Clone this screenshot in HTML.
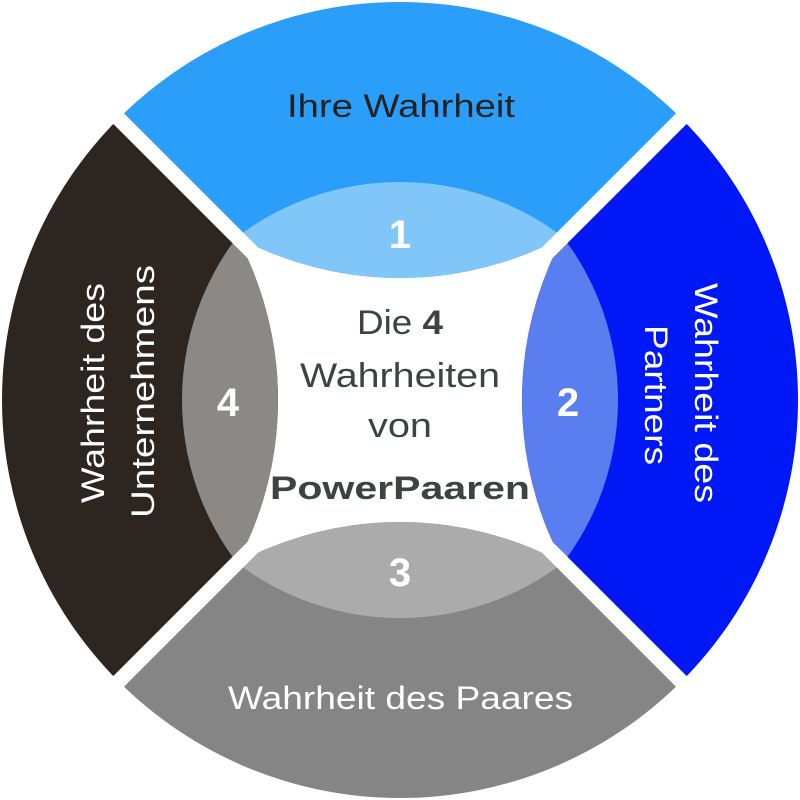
<!DOCTYPE html>
<html><head><meta charset="utf-8"><style>
html,body{margin:0;padding:0;background:#fff;}
svg{display:block;}
text{font-family:"Liberation Sans","DejaVu Sans",sans-serif;}
</style></head><body>
<svg width="800" height="800" viewBox="0 0 800 800" xmlns="http://www.w3.org/2000/svg">
<defs>
<clipPath id="wT"><polygon points="400,400 -400,-400 1200,-400"/></clipPath>
<clipPath id="wR"><polygon points="400,400 1200,-400 1200,1200"/></clipPath>
<clipPath id="wB"><polygon points="400,400 1200,1200 -400,1200"/></clipPath>
<clipPath id="wL"><polygon points="400,400 -400,1200 -400,-400"/></clipPath>
<clipPath id="cT"><circle cx="400" cy="-66" r="344"/></clipPath>
<clipPath id="cR"><circle cx="866" cy="400" r="344"/></clipPath>
<clipPath id="cB"><circle cx="400" cy="866" r="344"/></clipPath>
<clipPath id="cL"><circle cx="-66" cy="400" r="344"/></clipPath>
</defs>
<g clip-path="url(#wT)"><g clip-path="url(#cT)">
<circle cx="400" cy="400" r="398" fill="#2a9ef8"/>
<circle cx="400" cy="451" r="269" fill="#80c6f8"/>
</g></g>
<g clip-path="url(#wR)"><g clip-path="url(#cR)">
<circle cx="400" cy="400" r="398" fill="#0018f5"/>
<circle cx="349" cy="400" r="269" fill="#5a7ef0"/>
</g></g>
<g clip-path="url(#wB)"><g clip-path="url(#cB)">
<circle cx="400" cy="400" r="398" fill="#858585"/>
<circle cx="400" cy="349" r="269" fill="#ababab"/>
</g></g>
<g clip-path="url(#wL)"><g clip-path="url(#cL)">
<circle cx="400" cy="400" r="398" fill="#2d2520"/>
<circle cx="451" cy="400" r="269" fill="#8c8886"/>
</g></g>
<line x1="0" y1="0" x2="800" y2="800" stroke="#fff" stroke-width="15"/>
<line x1="800" y1="0" x2="0" y2="800" stroke="#fff" stroke-width="15"/>

<text x="287" y="117" font-size="32" fill="#222" textLength="228" lengthAdjust="spacingAndGlyphs">Ihre Wahrheit</text>
<text x="228" y="709" font-size="32" fill="#fff" textLength="345" lengthAdjust="spacingAndGlyphs">Wahrheit des Paares</text>
<text transform="translate(104,503) rotate(-90)" font-size="32" fill="#fff" textLength="220" lengthAdjust="spacingAndGlyphs">Wahrheit des</text>
<text transform="translate(154,518) rotate(-90)" font-size="32" fill="#fff" textLength="253" lengthAdjust="spacingAndGlyphs">Unternehmens</text>
<text transform="translate(695,283) rotate(90)" font-size="32" fill="#fff" textLength="220" lengthAdjust="spacingAndGlyphs">Wahrheit des</text>
<text transform="translate(645,325) rotate(90)" font-size="32" fill="#fff" textLength="140" lengthAdjust="spacingAndGlyphs">Partners</text>
<g font-size="40" font-weight="bold" fill="#fff" text-anchor="middle">
<text x="400" y="248">1</text>
<text x="568" y="416">2</text>
<text x="400" y="586">3</text>
<text x="228" y="416">4</text>
</g>
<g fill="#3a4540" font-size="34">
<text x="357" y="334" textLength="86" lengthAdjust="spacingAndGlyphs">Die <tspan font-weight="bold">4</tspan></text>
<text x="300" y="387" textLength="200" lengthAdjust="spacingAndGlyphs">Wahrheiten</text>
<text x="368" y="437" textLength="64" lengthAdjust="spacingAndGlyphs">von</text>
<text x="270" y="499" font-size="32" font-weight="bold" textLength="260" lengthAdjust="spacingAndGlyphs">PowerPaaren</text>
</g>
</svg>
</body></html>
